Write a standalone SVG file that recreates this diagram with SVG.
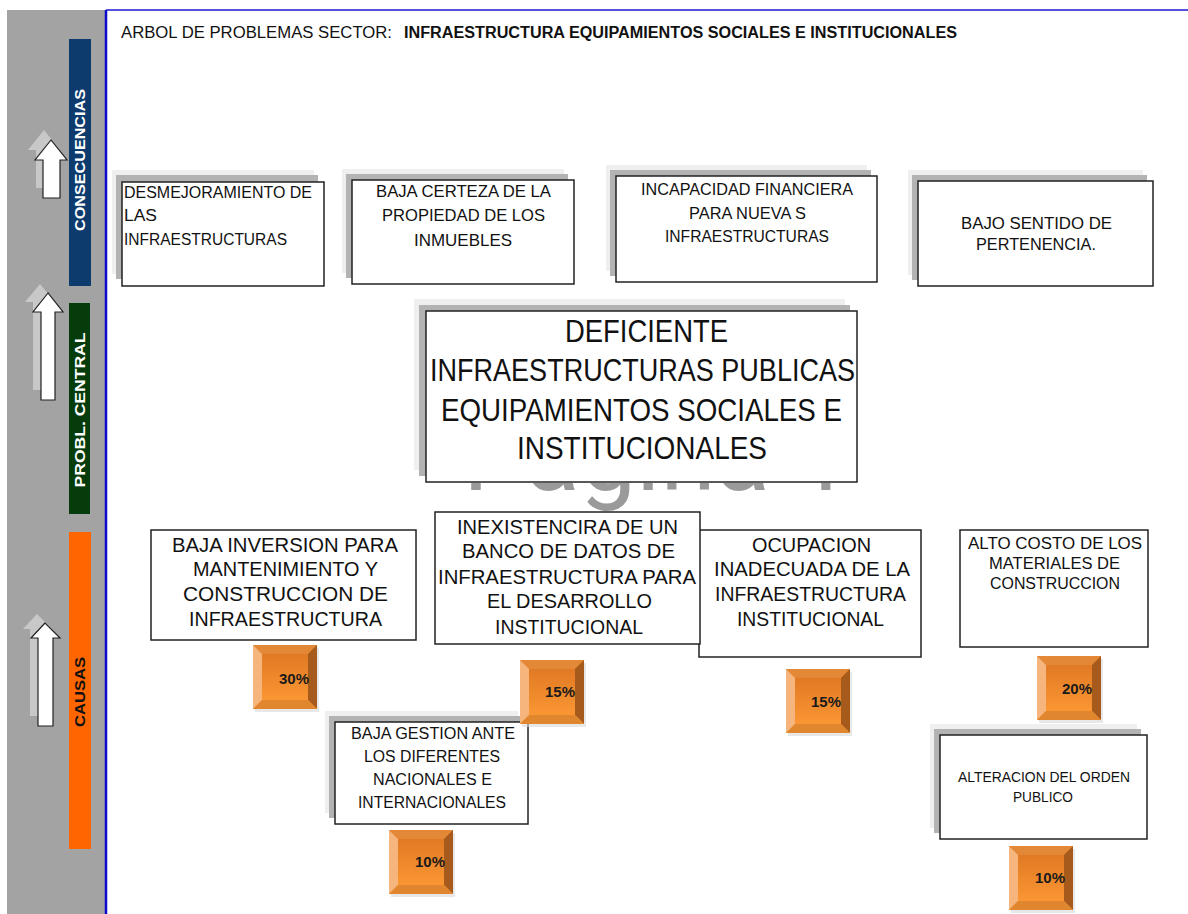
<svg xmlns="http://www.w3.org/2000/svg" width="1188" height="914" viewBox="0 0 1188 914">
<style>
.t{font-family:"Liberation Sans Narrow","Liberation Sans",Arial,sans-serif;fill:#111;text-anchor:middle;}
.tl{font-family:"Liberation Sans Narrow","Liberation Sans",Arial,sans-serif;fill:#111;}
.box{fill:#fff;stroke:#222;stroke-width:1.5;}
.sh1{fill:#efefef;}
.sh2{fill:#b3b3b3;}
.side{font-family:"Liberation Sans",Arial,sans-serif;font-weight:bold;font-size:15px;text-anchor:middle;}
.pct{font-family:"Liberation Sans",Arial,sans-serif;font-weight:bold;font-size:15px;fill:#1a1a1a;text-anchor:middle;}
.arr{fill:#fff;stroke:#222;stroke-width:1.2;}
.arrs{fill:#cfcfcf;opacity:0.85;}
</style>
<defs>
<linearGradient id="face" x1="0" y1="0" x2="0" y2="1">
<stop offset="0" stop-color="#dc7421"/>
<stop offset="1" stop-color="#ff9c36"/>
</linearGradient>
<clipPath id="wmclip"><rect x="400" y="483" width="500" height="40"/></clipPath>
<g id="badge">
<rect x="2" y="3" width="64" height="64" fill="#d9d9d9" opacity="0.6"/>
<rect x="0" y="0" width="64" height="64" fill="url(#face)"/>
<polygon points="0,0 64,0 55,9 9,9" fill="#e38836"/>
<polygon points="0,0 9,9 9,55 0,64" fill="#f6b57c"/>
<polygon points="64,0 64,64 55,55 55,9" fill="#a65a1c"/>
<polygon points="0,64 64,64 55,55 9,55" fill="#e0862f"/>
</g>
</defs>
<rect x="0" y="0" width="1188" height="914" fill="#fff"/>
<g id="sidebar">
<rect x="7" y="10" width="99" height="904" fill="#a3a3a3"/>
<line x1="106" y1="10" x2="1188" y2="10" stroke="#5252dc" stroke-width="2"/>
<line x1="106" y1="10" x2="106" y2="914" stroke="#0a0acc" stroke-width="2.5"/>
<rect x="69" y="39" width="22" height="247" fill="#0d3b6e"/>
<rect x="69" y="303" width="21" height="211" fill="#063b0c"/>
<rect x="69" y="532" width="22" height="317" fill="#ff6600"/>
<text class="side" fill="#fff" transform="translate(85,160) rotate(-90)" textLength="142" lengthAdjust="spacingAndGlyphs">CONSECUENCIAS</text>
<text class="side" fill="#fff" transform="translate(85,410) rotate(-90)" textLength="155" lengthAdjust="spacingAndGlyphs">PROBL.  CENTRAL</text>
<text class="side" fill="#111" transform="translate(85,692) rotate(-90)" textLength="70" lengthAdjust="spacingAndGlyphs">CAUSAS</text>
<polygon class="arrs" points="44,130 28,150 36,150 36,188 46,188 46,150 60,150"/>
<polygon class="arr" points="51,140 35,160 43,160 43,198 60,198 60,160 67,160"/>
<polygon class="arrs" points="40,284 25,302 33,302 33,390 45,390 45,302 55,302"/>
<polygon class="arr" points="48,293 33,312 41,312 41,400 55,400 55,312 63,312"/>
<polygon class="arrs" points="37,614 23,629 30,629 30,716 43,716 43,629 52,629"/>
<polygon class="arr" points="45,623 31,638 38,638 38,726 53,726 53,638 60,638"/>
</g>
<g id="title">
<text class="tl" x="121" y="38" font-size="16" textLength="271" lengthAdjust="spacingAndGlyphs">ARBOL DE PROBLEMAS  SECTOR:</text>
<text class="tl" x="404" y="38" font-size="16" font-weight="bold" textLength="553" lengthAdjust="spacingAndGlyphs">INFRAESTRUCTURA EQUIPAMIENTOS SOCIALES E INSTITUCIONALES</text>
</g>
<g id="watermark" clip-path="url(#wmclip)">
<text x="463" y="490" font-family="Roboto,'Liberation Sans',sans-serif" font-size="100" fill="#9a9a9a">Pagina 1</text>
</g>
<g id="connectors"></g>
<g id="c1">
<rect class="sh1" x="112" y="170" width="202" height="104"/>
<rect class="sh2" x="116" y="175" width="202" height="104"/>
<rect class="box" x="122" y="182" width="202" height="104"/>
<text class="tl" font-size="16" x="124" y="198" textLength="188" lengthAdjust="spacingAndGlyphs">DESMEJORAMIENTO  DE</text>
<text class="tl" font-size="16" x="124" y="221" textLength="33" lengthAdjust="spacingAndGlyphs">LAS</text>
<text class="tl" font-size="16" x="124" y="245" textLength="163" lengthAdjust="spacingAndGlyphs">INFRAESTRUCTURAS</text>
</g>
<g id="c2">
<rect class="sh1" x="342" y="169" width="222" height="104"/>
<rect class="sh2" x="346" y="174" width="222" height="104"/>
<rect class="box" x="352" y="180" width="222" height="104"/>
<text class="t" font-size="17" x="463.5" y="197" textLength="175" lengthAdjust="spacingAndGlyphs">BAJA CERTEZA DE LA</text>
<text class="t" font-size="17" x="463.5" y="221" textLength="163" lengthAdjust="spacingAndGlyphs">PROPIEDAD DE LOS</text>
<text class="t" font-size="17" x="463" y="246" textLength="98" lengthAdjust="spacingAndGlyphs">INMUEBLES</text>
</g>
<g id="c3">
<rect class="sh1" x="606" y="165" width="261" height="106"/>
<rect class="sh2" x="610" y="170" width="261" height="106"/>
<rect class="box" x="616" y="176" width="261" height="106"/>
<text class="t" font-size="16" x="747" y="195" textLength="212" lengthAdjust="spacingAndGlyphs">INCAPACIDAD  FINANCIERA</text>
<text class="t" font-size="16" x="747.5" y="219" textLength="117" lengthAdjust="spacingAndGlyphs">PARA NUEVA S</text>
<text class="t" font-size="16" x="747" y="242" textLength="164" lengthAdjust="spacingAndGlyphs">INFRAESTRUCTURAS</text>
</g>
<g id="c4">
<rect class="sh1" x="908" y="170" width="235" height="105"/>
<rect class="sh2" x="912" y="175" width="235" height="105"/>
<rect class="box" x="918" y="181" width="235" height="105"/>
<text class="t" font-size="16" x="1036.5" y="229" textLength="151" lengthAdjust="spacingAndGlyphs">BAJO SENTIDO  DE</text>
<text class="t" font-size="16" x="1036" y="250" textLength="120" lengthAdjust="spacingAndGlyphs">PERTENENCIA.</text>
</g>
<g id="central">
<rect class="sh1" x="414" y="299" width="431" height="171"/>
<rect class="sh2" x="419" y="305" width="431" height="171"/>
<rect class="box" x="426" y="311" width="431" height="171"/>
<text class="t" font-size="31" x="646.5" y="342" textLength="163" lengthAdjust="spacingAndGlyphs">DEFICIENTE</text>
<text class="t" font-size="31" x="642.5" y="381" textLength="425" lengthAdjust="spacingAndGlyphs">INFRAESTRUCTURAS PUBLICAS</text>
<text class="t" font-size="31" x="641.5" y="421" textLength="401" lengthAdjust="spacingAndGlyphs">EQUIPAMIENTOS SOCIALES E</text>
<text class="t" font-size="31" x="642" y="459" textLength="250" lengthAdjust="spacingAndGlyphs">INSTITUCIONALES</text>
</g>
<g id="k1">
<rect class="box" x="151" y="530" width="265" height="110"/>
<text class="t" font-size="20" x="285" y="552" textLength="226" lengthAdjust="spacingAndGlyphs">BAJA INVERSION  PARA</text>
<text class="t" font-size="20" x="285.5" y="576" textLength="185" lengthAdjust="spacingAndGlyphs">MANTENIMIENTO  Y</text>
<text class="t" font-size="20" x="285.5" y="601" textLength="205" lengthAdjust="spacingAndGlyphs">CONSTRUCCION   DE</text>
<text class="t" font-size="20" x="285.5" y="626" textLength="193" lengthAdjust="spacingAndGlyphs">INFRAESTRUCTURA</text>
</g>
<g id="k3">
<rect class="box" x="699" y="530" width="222" height="127"/>
<text class="t" font-size="20" x="811.5" y="552" textLength="119" lengthAdjust="spacingAndGlyphs">OCUPACION</text>
<text class="t" font-size="20" x="812" y="576" textLength="196" lengthAdjust="spacingAndGlyphs">INADECUADA DE LA</text>
<text class="t" font-size="20" x="810.5" y="601" textLength="191" lengthAdjust="spacingAndGlyphs">INFRAESTRUCTURA</text>
<text class="t" font-size="20" x="810.5" y="626" textLength="147" lengthAdjust="spacingAndGlyphs">INSTITUCIONAL</text>
</g>
<g id="k2">
<rect class="box" x="435" y="512" width="265" height="132"/>
<text class="t" font-size="20" x="567.5" y="534" textLength="221" lengthAdjust="spacingAndGlyphs">INEXISTENCIRA  DE UN</text>
<text class="t" font-size="20" x="568.5" y="558" textLength="213" lengthAdjust="spacingAndGlyphs">BANCO DE DATOS DE</text>
<text class="t" font-size="20" x="567" y="584" textLength="258" lengthAdjust="spacingAndGlyphs">INFRAESTRUCTURA  PARA</text>
<text class="t" font-size="20" x="569.5" y="608" textLength="165" lengthAdjust="spacingAndGlyphs">EL DESARROLLO</text>
<text class="t" font-size="20" x="569" y="634" textLength="148" lengthAdjust="spacingAndGlyphs">INSTITUCIONAL</text>
</g>
<g id="k4">
<rect class="box" x="960" y="530" width="188" height="117"/>
<text class="t" font-size="16" x="1055" y="549" textLength="174" lengthAdjust="spacingAndGlyphs">ALTO  COSTO  DE LOS</text>
<text class="t" font-size="16" x="1054.5" y="569" textLength="131" lengthAdjust="spacingAndGlyphs">MATERIALES  DE</text>
<text class="t" font-size="16" x="1055" y="589" textLength="130" lengthAdjust="spacingAndGlyphs">CONSTRUCCION</text>
</g>
<g id="k5">
<rect class="sh1" x="325" y="711" width="193" height="102"/>
<rect class="sh2" x="329" y="716" width="193" height="102"/>
<rect class="box" x="335" y="722" width="193" height="102"/>
<text class="t" font-size="16" x="433" y="739" textLength="164" lengthAdjust="spacingAndGlyphs">BAJA GESTION  ANTE</text>
<text class="t" font-size="16" x="432" y="762" textLength="136" lengthAdjust="spacingAndGlyphs">LOS DIFERENTES</text>
<text class="t" font-size="16" x="432.5" y="785" textLength="119" lengthAdjust="spacingAndGlyphs">NACIONALES  E</text>
<text class="t" font-size="16" x="432" y="808" textLength="148" lengthAdjust="spacingAndGlyphs">INTERNACIONALES</text>
</g>
<g id="k6">
<rect class="sh1" x="930" y="724" width="207" height="104"/>
<rect class="sh2" x="934" y="729" width="207" height="104"/>
<rect class="box" x="940" y="735" width="207" height="104"/>
<text class="t" font-size="15" x="1044" y="782" textLength="172" lengthAdjust="spacingAndGlyphs">ALTERACION DEL ORDEN</text>
<text class="t" font-size="15" x="1043" y="802" textLength="60" lengthAdjust="spacingAndGlyphs">PUBLICO</text>
</g>
<g id="p1"><use href="#badge" x="253" y="645"/><text class="pct" x="294" y="684">30%</text></g>
<g id="p2"><use href="#badge" x="520" y="660"/><text class="pct" x="560" y="697">15%</text></g>
<g id="p3"><use href="#badge" x="786" y="669"/><text class="pct" x="826" y="707">15%</text></g>
<g id="p4"><use href="#badge" x="1037" y="656"/><text class="pct" x="1077" y="694">20%</text></g>
<g id="p5"><use href="#badge" x="389" y="830"/><text class="pct" x="430" y="867">10%</text></g>
<g id="p6"><use href="#badge" x="1009" y="846"/><text class="pct" x="1050" y="883">10%</text></g>
</svg>
